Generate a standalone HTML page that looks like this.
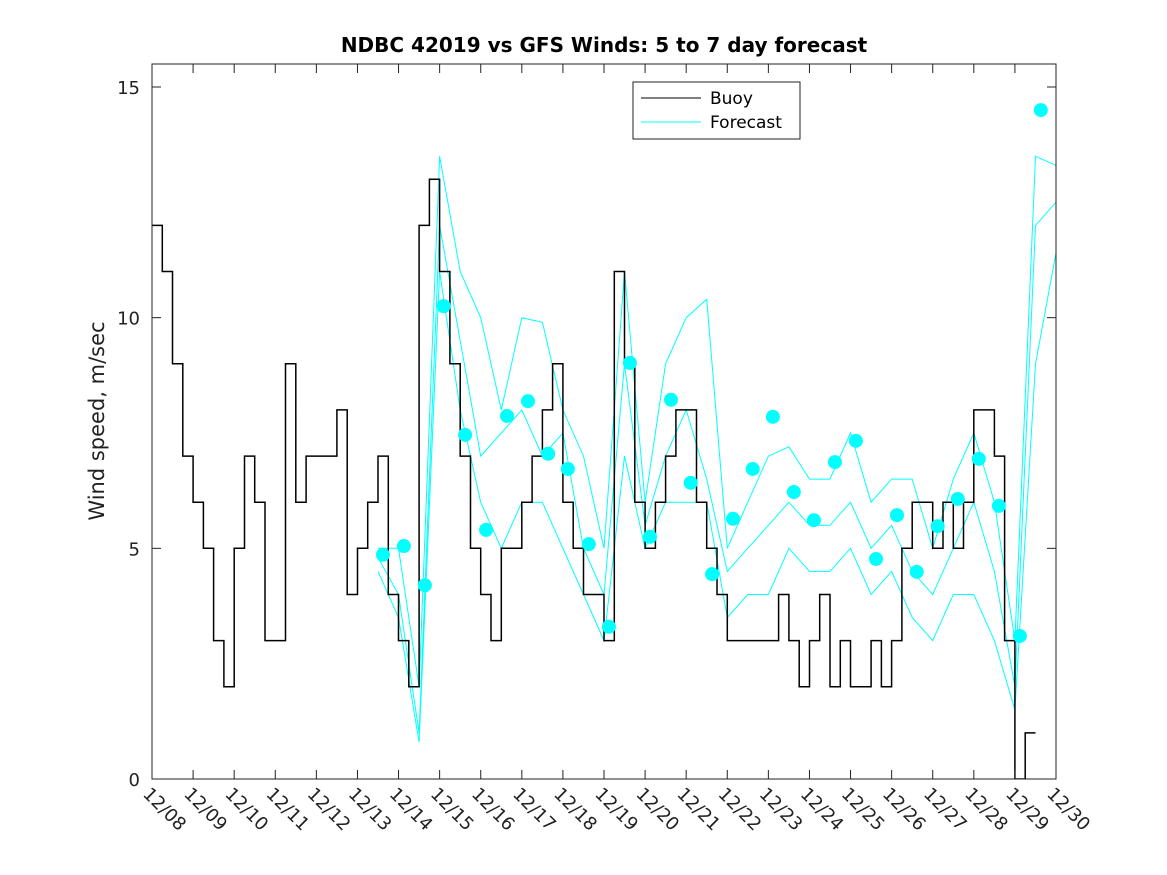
<!DOCTYPE html>
<html><head><meta charset="utf-8"><style>
body{margin:0;background:#fff;}
svg{display:block;font-family:"DejaVu Sans","Liberation Sans",sans-serif;}
</style></head><body>
<svg id="chart" width="1167" height="875" viewBox="0 0 1167 875">
<rect width="1167" height="875" fill="#fff"/>
<text x="604" y="52" text-anchor="middle" font-size="20" font-weight="bold" fill="#000">NDBC 42019 vs GFS Winds: 5 to 7 day forecast</text>
<text transform="translate(104,421) rotate(-90)" text-anchor="middle" font-size="21" fill="#222">Wind speed, m/sec</text>
<g id="plot"></g>
<g id="axes"></g>
<g>
<rect x="633" y="82" width="167" height="57" fill="#fff" stroke="#222" stroke-width="1"/>
<line x1="641" y1="98" x2="701" y2="98" stroke="#000" stroke-width="1"/>
<text x="710" y="104" font-size="17" fill="#000">Buoy</text>
<line x1="641" y1="122" x2="701" y2="122" stroke="#00ffff" stroke-width="1"/>
<text x="710" y="128" font-size="17" fill="#000">Forecast</text>
</g>
</svg>
<script>
const xTickLabels=["12/08","12/09","12/10","12/11","12/12","12/13","12/14","12/15","12/16","12/17","12/18","12/19","12/20","12/21","12/22","12/23","12/24","12/25","12/26","12/27","12/28","12/29","12/30"];
const yTicks=[0,5,10,15];
// buoy values, 4 per day starting 12/08 00Z
const buoy=[12,11,9,7, 6,5,3,2, 5,7,6,3, 3,9,6,7, 7,7,8,4, 5,6,7,4, 3,2,12,13, 11,9,7,5, 4,3,5,5, 6,7,8,9, 6,5,4,4, 3,11,9,6, 5,6,7,8, 8,6,5,4, 3,3,3,3, 3,4,3,2, 3,4,2,3, 2,2,3,2, 3,5,6,6, 5,6,5,6, 8,8,7,3, 0,1];
const fcTimes=[5.5,6,6.5,7,7.5,8,8.5,9,9.5,10,10.5,11,11.5,12,12.5,13,13.5,14,14.5,15,15.5,16,16.5,17,17.5,18,18.5,19,19.5,20,20.5,21,21.5,22];
const fcA=[5,5,2,13.5,11,10,8,10,9.9,8,7,5,11,6,9,10,10.4,5,6,7,7.2,6.5,6.5,7.5,6,6.5,6.5,5,6.5,7.5,6,3,13.5,13.3];
const fcB=[4.8,4,1,12,9.5,7,7.5,8,7,7.5,5,4,9,5.5,7,8,6.5,4.5,5,5.5,6,5.5,5.5,6,5,5.5,4.5,4,5,6,4.5,2,12,12.5];
const fcC=[4.5,3.5,0.8,11,8,6,5,6,6,5,4,3,7,5,6,6,6,3.5,4,4,5,4.5,4.5,5,4,4.5,3.5,3,4,4,3,1.5,9,11.4];
const dotTimes=[5.62,6.13,6.64,7.1,7.62,8.13,8.64,9.15,9.64,10.12,10.63,11.12,11.63,12.12,12.63,13.11,13.63,14.14,14.62,15.11,15.62,16.11,16.62,17.13,17.62,18.13,18.61,19.12,19.61,20.12,20.61,21.12,21.63];
const dotVals=[4.86,5.05,4.2,10.25,7.46,5.4,7.87,8.19,7.05,6.72,5.09,3.3,9.02,5.25,8.22,6.42,4.44,5.64,6.72,7.85,6.22,5.61,6.87,7.33,4.77,5.72,4.49,5.48,6.07,6.94,5.92,3.1,14.5];

const L=152,R=1056,T=64,B=779;
const x=d=>L+(R-L)*d/22;
const y=v=>B-(B-87)*v/15;
const NS="http://www.w3.org/2000/svg";
const plot=document.getElementById('plot'),axes=document.getElementById('axes');
function mk(tag,attrs,parent){const e=document.createElementNS(NS,tag);for(const k in attrs)e.setAttribute(k,attrs[k]);parent.appendChild(e);return e;}

const defs=mk('defs',{},plot);const cp=mk('clipPath',{id:'clip'},defs);mk('rect',{x:L,y:T,width:R-L,height:B-T},cp);
const g=mk('g',{'clip-path':'url(#clip)'},plot);

[fcA,fcB,fcC].forEach((s,i)=>{
  const p=fcTimes.map((t,j)=>x(t).toFixed(1)+','+y(s[j]).toFixed(1)).join(' ');
  const el=mk('polyline',{points:p,fill:'none',stroke:'#00ffff','stroke-width':1},g);
  
  
});
let pts=[];
buoy.forEach((v,i)=>{const t0=i*0.25,t1=(i+1)*0.25;pts.push(x(t0).toFixed(1)+','+y(v).toFixed(1));pts.push(x(t1).toFixed(1)+','+y(v).toFixed(1));});
const bl=mk('polyline',{points:pts.join(' '),fill:'none',stroke:'#000','stroke-width':1.5},g);


dotTimes.forEach((t,i)=>{
  const c=mk('circle',{cx:x(t),cy:y(dotVals[i]),r:7,fill:'#00ffff'},plot);
  
  
});

const box=mk('rect',{x:L,y:T,width:R-L,height:B-T,fill:'none',stroke:'#222','stroke-width':1},axes);


xTickLabels.forEach((lab,i)=>{
  const xx=x(i);
  mk('line',{x1:xx,y1:B,x2:xx,y2:B-9,stroke:'#222'},axes);
  mk('line',{x1:xx,y1:T,x2:xx,y2:T+9,stroke:'#222'},axes);
  const tx=mk('text',{transform:`translate(${xx-10},${795}) rotate(45)`,'font-size':18,fill:'#222'},axes);
  tx.textContent=lab;
  
  
});
yTicks.forEach(v=>{
  const yy=y(v);
  mk('line',{x1:L,y1:yy,x2:L+9,y2:yy,stroke:'#222'},axes);
  mk('line',{x1:R,y1:yy,x2:R-9,y2:yy,stroke:'#222'},axes);
  const tx=mk('text',{x:L-12,y:yy+7,'text-anchor':'end','font-size':18,fill:'#222'},axes);
  tx.textContent=v;
  
  
});
</script>
</body></html>
